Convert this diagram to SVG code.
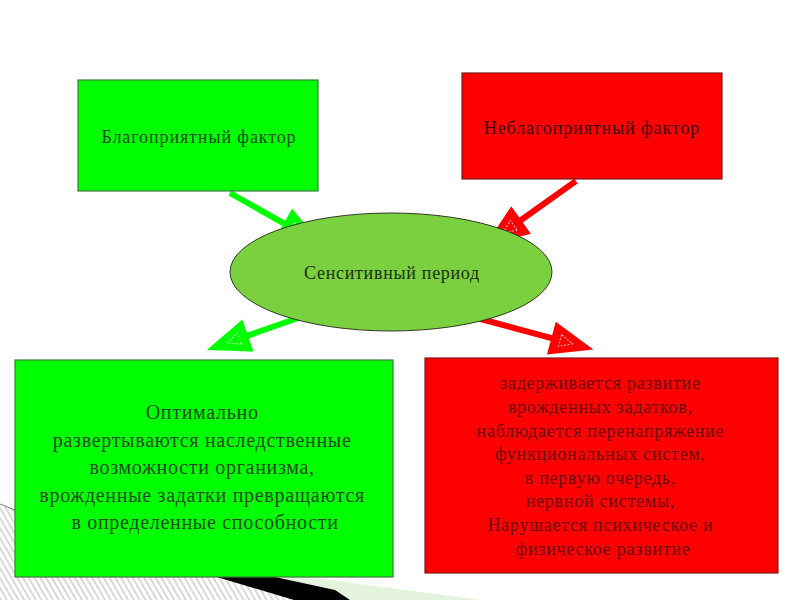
<svg xmlns="http://www.w3.org/2000/svg" width="800" height="600" viewBox="0 0 800 600">
  <defs>
    <style>
      .t { font-family: "Liberation Serif", "DejaVu Serif", serif; text-anchor: middle; }
      .gbox { fill: #00ff00; stroke: #3d7a3d; stroke-width: 1.2; }
      .rbox { fill: #ff0000; stroke: #7a1a1a; stroke-width: 1.2; }
      .gtext { fill: #1e4a1e; }
      .rtext { fill: #6a0a0a; }
      .garrow { stroke: #00ff00; stroke-width: 6; fill: none; marker-end: url(#headG); }
      .rarrow { stroke: #ff0000; stroke-width: 6; fill: none; marker-end: url(#headR); }
    </style>
    <pattern id="hatch" width="5" height="5" patternUnits="userSpaceOnUse" patternTransform="rotate(-30)">
      <rect width="5" height="5" fill="#ffffff"/>
      <rect width="2" height="5" fill="#d8d8d8"/>
    </pattern>
    <marker id="headG" viewBox="0 -18 46 36" markerWidth="46" markerHeight="36" refX="4" refY="0" orient="auto" markerUnits="userSpaceOnUse" overflow="visible">
      <path d="M4,-14 L40,0 L4,14 Z" fill="#00ff00" stroke="#00ff00" stroke-width="4" stroke-linejoin="miter"/>
      <path d="M11,-6 L24,0 L11,6 Z" fill="none" stroke="#a8ffa8" stroke-width="1" stroke-dasharray="2 1.5"/>
    </marker>
    <marker id="headR" viewBox="0 -18 46 36" markerWidth="46" markerHeight="36" refX="4" refY="0" orient="auto" markerUnits="userSpaceOnUse" overflow="visible">
      <path d="M4,-14 L40,0 L4,14 Z" fill="#ff0000" stroke="#ff0000" stroke-width="4" stroke-linejoin="miter"/>
      <path d="M11,-6 L24,0 L11,6 Z" fill="none" stroke="#ffb8b8" stroke-width="1" stroke-dasharray="2 1.5"/>
    </marker>
  </defs>

  <rect width="800" height="600" fill="#ffffff"/>

  <g id="background-decoration">
    <path d="M0,504 L15,510 L230,577 L296,600 L0,600 Z" fill="url(#hatch)"/>
    <path d="M0,504 L15,510" stroke="#777777" stroke-width="1" fill="none"/>
    <path d="M270,572 L480,600 L340,600 Z" fill="#e4f4dc"/>
    <path d="M200,572 L275,577 L335,590 L350,600 L294,600 Z" fill="#000000"/>
  </g>

  <g id="connectors">
    <line class="garrow" x1="230" y1="193" x2="285.6" y2="224.3"/>
    <line class="rarrow" x1="576" y1="181" x2="519.4" y2="221.2"/>
    <line class="garrow" x1="298" y1="318" x2="246" y2="336.2"/>
    <line class="rarrow" x1="477" y1="318" x2="553.3" y2="338.6"/>
  </g>

  <g id="favorable">
    <rect class="gbox" x="78" y="80" width="240" height="111"/>
    <text class="t gtext" x="199" y="143" font-size="18" letter-spacing="0.9">Благоприятный фактор</text>
  </g>

  <g id="unfavorable">
    <rect class="rbox" x="462" y="73" width="260" height="106"/>
    <text class="t" x="592" y="134" font-size="18" letter-spacing="0.9" fill="#3a0808">Неблагоприятный фактор</text>
  </g>

  <g id="sensitive-period">
    <ellipse cx="391" cy="272" rx="161" ry="59" fill="#7ad03e" stroke="#2b3a22" stroke-width="1"/>
    <text class="t" x="392" y="279" font-size="18" letter-spacing="0.7" fill="#1e2e14">Сенситивный период</text>
  </g>

  <g id="optimal">
    <rect class="gbox" x="15" y="360" width="378" height="217"/>
    <text class="t gtext" font-size="20" letter-spacing="0.7">
      <tspan x="205" y="419">Оптимально</tspan>
      <tspan x="205" y="447">развертываются наследственные</tspan>
      <tspan x="205" y="474">возможности организма,</tspan>
      <tspan x="205" y="502">врожденные задатки превращаются</tspan>
      <tspan x="205" y="529">в определенные способности</tspan>
    </text>
  </g>

  <g id="delayed">
    <rect class="rbox" x="425" y="358" width="353" height="215"/>
    <text class="t rtext" font-size="18" letter-spacing="0.75">
      <tspan x="603" y="389">задерживается развитие</tspan>
      <tspan x="603" y="413">врожденных задатков,</tspan>
      <tspan x="603" y="437">наблюдается перенапряжение</tspan>
      <tspan x="603" y="460">функциональных систем,</tspan>
      <tspan x="603" y="484">в первую очередь,</tspan>
      <tspan x="603" y="507">нервной системы,</tspan>
      <tspan x="603" y="531">Нарушается психическое и</tspan>
      <tspan x="603" y="555">физическое развитие</tspan>
    </text>
  </g>
</svg>
